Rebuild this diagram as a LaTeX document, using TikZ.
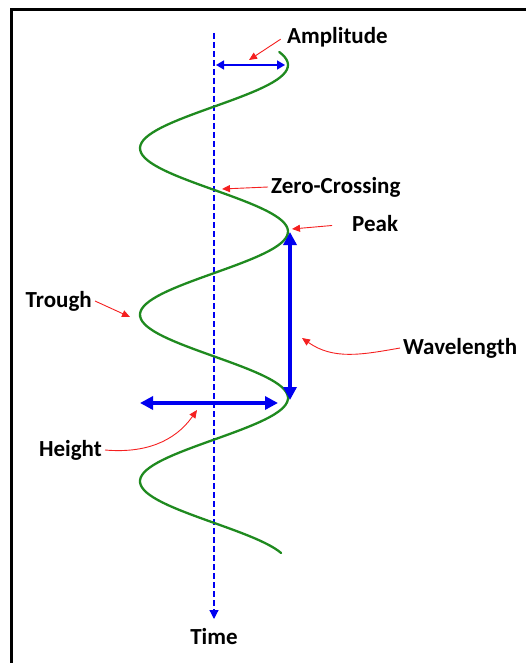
\documentclass[tikz,border=0pt]{standalone}
\usepackage{fontspec}
\setmainfont{Carlito}
\usepackage{xcolor}
\usetikzlibrary{arrows.meta}
\definecolor{wavec}{HTML}{1F8A1F}
\definecolor{axisc}{HTML}{0000F0}
\definecolor{notec}{HTML}{F52020}

\begin{document}
\begin{tikzpicture}[x=1pt, y=-1pt,
    lbl/.style={font=\fontsize{23}{26}\selectfont\bfseries, inner sep=3pt},
    pointer/.style={notec, line width=0.9pt, -{Triangle[length=8pt,width=7pt]}},
    measure/.style={axisc, line width=1.6pt, {Triangle[length=8pt,width=9pt]}-{Triangle[length=8pt,width=9pt]}},
    bigmeasure/.style={axisc, line width=4pt, {Triangle[length=13pt,width=13pt]}-{Triangle[length=13pt,width=13pt]}}]
  \useasboundingbox (0,0) rectangle (526,663);
  % frame
  \draw[line width=3pt] (11,663) |- (526,10);
  % time axis
  \coordinate (axtop) at (214,33);
  \coordinate (axbot) at (214,619);
  \draw[axisc, line width=1.2pt, dash pattern=on 6pt off 3pt, -{Triangle[length=9pt,width=9pt]}] (axtop) -- (axbot);
  \node[lbl, anchor=north] (time) at (214,625) {Time};
  % wave
  \draw[wavec, line width=2.3pt, line cap=round]
    plot[domain=52:553, samples=200, variable=\t] ({214+74*cos((\t-65)*2.16216)}, \t);
  % points on the wave
  \coordinate (axmid) at (216,65);
  \coordinate (crest0) at (285,65);
  \coordinate (zerotip) at (222,189);
  \coordinate (peaktip) at (292,229);
  \coordinate (crest1) at (290,232);
  \coordinate (crest2) at (290,400);
  \coordinate (troughtip) at (130,317);
  \coordinate (hleft) at (140,403);
  \coordinate (hright) at (278,403);
  \coordinate (hgttip) at (197,410);
  \coordinate (wltip) at (302,338);
  \coordinate (amptip) at (249,60);
  % measures
  \draw[measure] (axmid) -- (crest0);
  \draw[bigmeasure] (crest1) -- (crest2);
  \draw[bigmeasure] (hleft) -- (hright);
  % labels
  \node[lbl, anchor=west] (amp) at (284,37) {Amplitude};
  \node[lbl, anchor=west] (zero) at (268,187) {Zero-Crossing};
  \node[lbl, anchor=west] (peak) at (349,224) {Peak};
  \node[lbl, anchor=east] (trough) at (95,301) {Trough};
  \node[lbl, anchor=west] (wave) at (400,348) {Wavelength};
  \node[lbl, anchor=east] (hgt) at (105,450) {Height};
  % pointers
  \draw[pointer, shorten <=4pt] (amp.west) -- (amptip);
  \draw[pointer] (zero.west) -- (zerotip);
  \draw[pointer, shorten <=17pt] (peak.west) -- (peaktip);
  \draw[pointer] (trough.east) -- (troughtip);
  \draw[pointer] (wave.west) to[out=190, in=-35] (wltip);
  \draw[pointer] (hgt.east) to[out=-5, in=-125] (hgttip);
\end{tikzpicture}
\end{document}
